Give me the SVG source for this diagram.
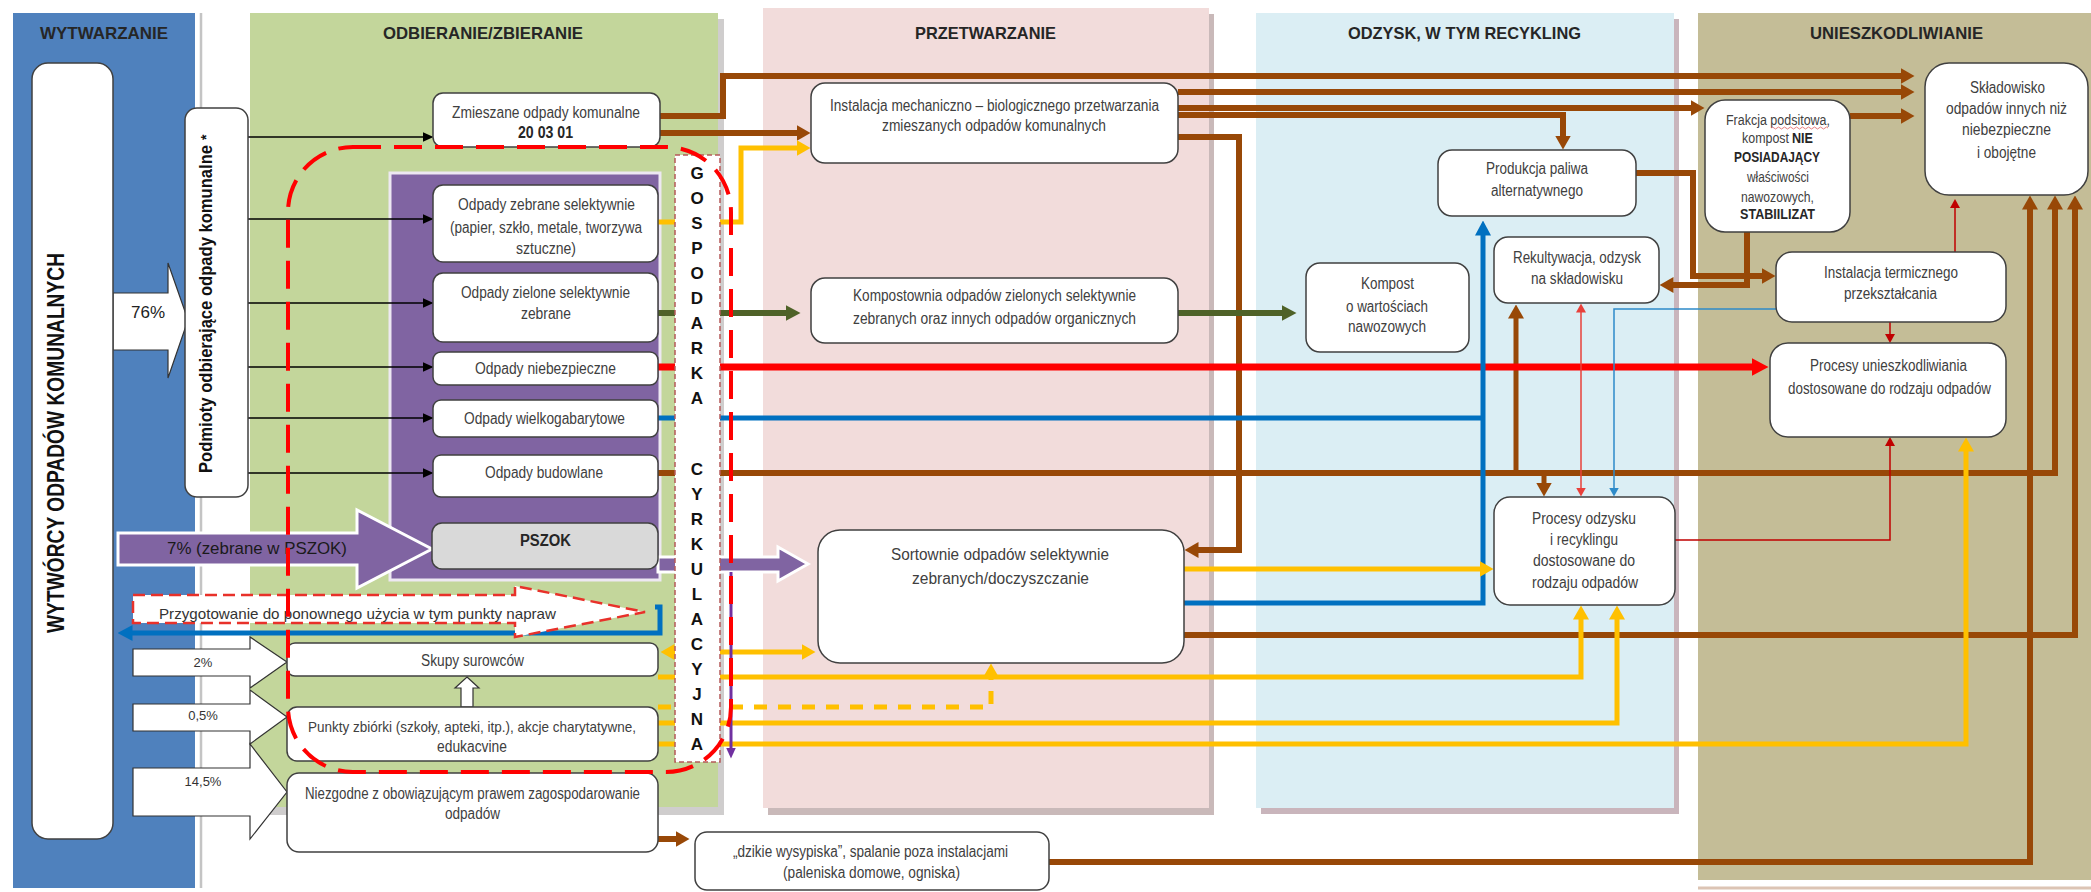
<svg xmlns="http://www.w3.org/2000/svg" width="2091" height="892" viewBox="0 0 2091 892">
<defs>
<style>
.hd{font-family:"Liberation Sans",Arial,sans-serif;font-weight:bold;font-size:17px;fill:#262626}
.t{font-family:"Liberation Sans Narrow","Liberation Sans",Arial,sans-serif;font-size:16px;fill:#404040}
.ts{font-family:"Liberation Sans Narrow","Liberation Sans",Arial,sans-serif;font-size:14px;fill:#404040}
.b{font-weight:bold;fill:#262626}
.box{fill:#fff;stroke:#404040;stroke-width:1.5}
.gc{font-family:"Liberation Sans",Arial,sans-serif;font-weight:bold;font-size:17px;fill:#111;text-anchor:middle}
.pct{font-family:"Liberation Sans",Arial,sans-serif;font-size:13px;fill:#333;text-anchor:middle}
.c{fill:none}
.bk{stroke:#000;stroke-width:1.5;marker-end:url(#mBk)}
.br{stroke:#984807;stroke-width:6;marker-end:url(#mBr)}
.br5{stroke:#984807;stroke-width:5;marker-end:url(#mBr)}
.ye{stroke:#FFC000;stroke-width:5;marker-end:url(#mY)}
.gr{stroke:#4F6228;stroke-width:6;marker-end:url(#mG)}
.rd{stroke:#FF0000;stroke-width:7;marker-end:url(#mR)}
.bl{stroke:#0070C0;stroke-width:5}
.tr{stroke:#C00000;stroke-width:1.5;marker-end:url(#mTR)}
.tb{stroke:#2E8BC9;stroke-width:1.5;marker-end:url(#mTB)}
.wa{fill:#fff;stroke:#333;stroke-width:1.2}
.pa{fill:#8064A2;stroke:#fff;stroke-width:3}
</style>
<marker id="mBr" viewBox="0 0 14 16" refX="0.5" refY="8" markerWidth="14" markerHeight="16" markerUnits="userSpaceOnUse" orient="auto-start-reverse"><path d="M0,0L14,8L0,16z" fill="#984807"/></marker>
<marker id="mY" viewBox="0 0 14 16" refX="0.5" refY="8" markerWidth="14" markerHeight="16" markerUnits="userSpaceOnUse" orient="auto-start-reverse"><path d="M0,0L14,8L0,16z" fill="#FFC000"/></marker>
<marker id="mG" viewBox="0 0 15 16" refX="0.5" refY="8" markerWidth="15" markerHeight="16" markerUnits="userSpaceOnUse" orient="auto-start-reverse"><path d="M0,0L15,8L0,16z" fill="#4F6228"/></marker>
<marker id="mR" viewBox="0 0 17 18" refX="0.5" refY="9" markerWidth="17" markerHeight="18" markerUnits="userSpaceOnUse" orient="auto-start-reverse"><path d="M0,0L17,9L0,18z" fill="#FF0000"/></marker>
<marker id="mBl" viewBox="0 0 15 16" refX="0.5" refY="8" markerWidth="15" markerHeight="16" markerUnits="userSpaceOnUse" orient="auto-start-reverse"><path d="M0,0L15,8L0,16z" fill="#0070C0"/></marker>
<marker id="mBk" viewBox="0 0 11 10" refX="0.5" refY="5" markerWidth="11" markerHeight="10" markerUnits="userSpaceOnUse" orient="auto-start-reverse"><path d="M0,0L11,5L0,10z" fill="#000"/></marker>
<marker id="mTR" viewBox="0 0 9 10" refX="0.5" refY="5" markerWidth="9" markerHeight="10" markerUnits="userSpaceOnUse" orient="auto-start-reverse"><path d="M0,0L9,5L0,10z" fill="#C00000"/></marker>
<marker id="mTR2" viewBox="0 0 9 10" refX="0.5" refY="5" markerWidth="9" markerHeight="10" markerUnits="userSpaceOnUse" orient="auto-start-reverse"><path d="M0,0L9,5L0,10z" fill="#E8403A"/></marker>
<marker id="mTB" viewBox="0 0 9 10" refX="0.5" refY="5" markerWidth="9" markerHeight="10" markerUnits="userSpaceOnUse" orient="auto-start-reverse"><path d="M0,0L9,5L0,10z" fill="#2E8BC9"/></marker>
<marker id="mP" viewBox="0 0 11 10" refX="0.5" refY="5" markerWidth="11" markerHeight="10" markerUnits="userSpaceOnUse" orient="auto-start-reverse"><path d="M0,0L11,5L0,10z" fill="#7030A0"/></marker>
</defs>
<rect x="0" y="0" width="2091" height="892" fill="#fff"/>

<g id="columns">
<rect x="13" y="13" width="182" height="875" fill="#4F81BD"/>
<line x1="201" y1="13" x2="201" y2="888" stroke="#C4C4C4" stroke-width="2.5"/>
<rect x="256" y="19" width="468" height="796" fill="#CFCDCD"/>
<rect x="250" y="13" width="468" height="794" fill="#C3D69B"/>
<rect x="768" y="14" width="446" height="801" fill="#C9B9B9"/>
<rect x="763" y="8" width="446" height="800" fill="#F2DCDB"/>
<rect x="1261" y="19" width="418" height="795" fill="#C9B5BC"/>
<rect x="1256" y="13" width="418" height="795" fill="#DBEEF4"/>
<rect x="1698" y="13" width="393" height="867" fill="#C4BD97"/>
<line x1="1698" y1="888" x2="2091" y2="888" stroke="#DCC4B4" stroke-width="3"/>
<text class="hd" x="40" y="39" textLength="128" lengthAdjust="spacingAndGlyphs">WYTWARZANIE</text>
<text class="hd" x="383" y="39" textLength="200" lengthAdjust="spacingAndGlyphs">ODBIERANIE/ZBIERANIE</text>
<text class="hd" x="915" y="39" textLength="141" lengthAdjust="spacingAndGlyphs">PRZETWARZANIE</text>
<text class="hd" x="1348" y="39" textLength="233" lengthAdjust="spacingAndGlyphs">ODZYSK, W TYM RECYKLING</text>
<text class="hd" x="1810" y="39" textLength="173" lengthAdjust="spacingAndGlyphs">UNIESZKODLIWIANIE</text>
</g>

<g id="selective-panel">
<rect x="390" y="173" width="270" height="407" fill="#8064A2" stroke="#EDE8F2" stroke-width="3"/>
</g>

<g id="connectors">
<polygon class="wa" points="113,293 168,293 168,263 188,320 168,378 168,350 113,350"/>
<polygon class="pa" points="118,533 357,533 357,510 432,549 357,588 357,565 118,565"/>
<polygon class="wa" points="133,649 250,649 250,637 287,662 250,688 250,676 133,676"/>
<polygon class="wa" points="133,704 250,704 250,690 287,717 250,744 250,731 133,731"/>
<polygon class="wa" points="133,768 250,768 250,744 287,792 250,839 250,816 133,816"/>
<polygon class="wa" points="467,677 479,688 473,688 473,707 461,707 461,688 455,688"/>
<polygon class="pa" stroke-width="2.5" points="658,557 778,557 778,547 808,564 778,581 778,572 658,572"/>

<path class="c bk" d="M248,137H423"/>
<path class="c bk" d="M248,219H423"/>
<path class="c bk" d="M248,303H423"/>
<path class="c bk" d="M248,367H423"/>
<path class="c bk" d="M248,418H423"/>
<path class="c bk" d="M248,473H423"/>

<path class="c br" d="M660,116H723V76H1901"/>
<path class="c br" d="M660,133H797"/>
<path class="c br" d="M1178,92H1901"/>
<path class="c br" d="M1178,108H1691"/>
<path class="c br" d="M1178,115H1563V136"/>
<path class="c br" d="M1178,137H1239V550H1198"/>
<path class="c br" d="M1850,116H1901"/>
<path class="c br" d="M1747,232V285H1673"/>
<path class="c br" d="M1636,173H1693V276H1762"/>
<path class="c br" d="M658,473H2055V209"/>
<path class="c br5" d="M1516,473V318"/>
<path class="c br5" d="M1544,473V483"/>
<path class="c br" d="M1184,635H2075V209"/>
<path class="c br" d="M1049,862H2030V209"/>
<path class="c br" d="M658,839H676"/>

<path class="c gr" d="M658,313H786"/>
<path class="c gr" d="M1178,313H1282"/>
<path class="c rd" d="M658,367H1752"/>

<path class="c bl" d="M658,418H1485"/>
<path class="c bl" d="M1184,603H1483V235" marker-end="url(#mBl)"/>
<path class="c bl" stroke-width="4" d="M655,607H660V633H132" marker-end="url(#mBl)"/>

<path class="c ye" d="M658,222H741V148H797"/>
<path class="c ye" d="M674,652H802" marker-start="url(#mY)"/>
<path class="c ye" d="M658,677H1581V619"/>
<path class="c ye" stroke-dasharray="13 11" d="M658,707H991V677"/>
<path class="c ye" d="M658,723H1617V619"/>
<path class="c ye" d="M658,744H1966V451"/>
<path class="c ye" d="M1184,569H1480"/>

<path class="c tr" d="M1955,252V207.5"/>
<path class="c tr" d="M1890,322V334.5"/>
<path class="c tr" d="M1675,540H1890V445.5"/>
<path class="c" stroke="#E8403A" stroke-width="1.5" d="M1581,312V488" marker-start="url(#mTR2)" marker-end="url(#mTR2)"/>
<path class="c tb" d="M1776,309H1614V488"/>
<path class="c" stroke="#7030A0" stroke-width="3" d="M731,572V748" marker-end="url(#mP)"/>
</g>

<g id="pct-labels">
<text class="hd" x="148" y="318" text-anchor="middle" style="font-weight:normal;fill:#222">76%</text>
<text x="167" y="554" textLength="180" lengthAdjust="spacingAndGlyphs" style="font-family:'Liberation Sans',Arial,sans-serif;font-size:17px;fill:#1a1a1a">7% (zebrane w PSZOK)</text>
<text class="pct" x="203" y="667">2%</text>
<text class="pct" x="203" y="720">0,5%</text>
<text class="pct" x="203" y="786">14,5%</text>
</g>

<g id="wytworcy">
<rect class="box" x="32" y="63" width="81" height="776" rx="16"/>
<text transform="translate(64,633) rotate(-90)" textLength="380" lengthAdjust="spacingAndGlyphs" style="font-family:'Liberation Sans',Arial,sans-serif;font-weight:bold;font-size:24px;fill:#111">WYTWÓRCY ODPADÓW KOMUNALNYCH</text>
</g>

<g id="podmioty">
<rect class="box" x="185" y="108" width="63" height="389" rx="12"/>
<text transform="translate(212,473) rotate(-90)" textLength="328" lengthAdjust="spacingAndGlyphs" style="font-family:'Liberation Sans',Arial,sans-serif;font-weight:bold;font-size:19px;fill:#111">Podmioty odbierające odpady komunalne</text>
<text transform="translate(211,140) rotate(-90)" style="font-family:'Liberation Sans',Arial,sans-serif;font-weight:bold;font-size:14px;fill:#111">*</text>
</g>

<g id="zmieszane">
<rect class="box" x="433" y="93" width="227" height="54" rx="10"/>
<text class="t" x="452" y="118" textLength="188" lengthAdjust="spacingAndGlyphs">Zmieszane odpady komunalne</text>
<text class="t b" x="518" y="138" textLength="55" lengthAdjust="spacingAndGlyphs">20 03 01</text>
</g>

<g id="zebrane-selektywnie">
<rect class="box" x="433" y="185" width="225" height="77" rx="10"/>
<text class="t" x="458" y="210" textLength="177" lengthAdjust="spacingAndGlyphs">Odpady zebrane selektywnie</text>
<text class="t" x="450" y="233" textLength="192" lengthAdjust="spacingAndGlyphs">(papier, szkło, metale, tworzywa</text>
<text class="t" x="516" y="254" textLength="60" lengthAdjust="spacingAndGlyphs">sztuczne)</text>
</g>

<g id="zielone">
<rect class="box" x="433" y="273" width="225" height="69" rx="10"/>
<text class="t" x="461" y="298" textLength="169" lengthAdjust="spacingAndGlyphs">Odpady zielone selektywnie</text>
<text class="t" x="521" y="319" textLength="50" lengthAdjust="spacingAndGlyphs">zebrane</text>
</g>

<g id="niebezpieczne">
<rect class="box" x="433" y="352" width="225" height="33" rx="8"/>
<text class="t" x="475" y="374" textLength="141" lengthAdjust="spacingAndGlyphs">Odpady niebezpieczne</text>
</g>

<g id="wielkogabarytowe">
<rect class="box" x="433" y="400" width="225" height="37" rx="8"/>
<text class="t" x="464" y="424" textLength="161" lengthAdjust="spacingAndGlyphs">Odpady wielkogabarytowe</text>
</g>

<g id="budowlane">
<rect class="box" x="433" y="455" width="225" height="42" rx="8"/>
<text class="t" x="485" y="478" textLength="118" lengthAdjust="spacingAndGlyphs">Odpady budowlane</text>
</g>

<g id="pszok">
<rect x="432" y="523" width="226" height="46" rx="10" fill="#D9D9D9" stroke="#404040" stroke-width="1.5"/>
<text class="t b" x="520" y="546" textLength="51" lengthAdjust="spacingAndGlyphs">PSZOK</text>
</g>

<g id="przygotowanie">
<polygon points="133,595 515,595 515,586 645,612 515,637 515,623 133,623" fill="#fff" stroke="#E8312A" stroke-width="2.5" stroke-dasharray="12 6"/>
<text x="159" y="619" textLength="397" lengthAdjust="spacingAndGlyphs" style="font-family:'Liberation Sans',Arial,sans-serif;font-size:15px;fill:#333">Przygotowanie do ponownego użycia w tym punkty napraw</text>
</g>

<g id="skupy">
<rect class="box" x="287" y="643" width="371" height="33" rx="8"/>
<text class="t" x="421" y="666" textLength="103" lengthAdjust="spacingAndGlyphs">Skupy surowców</text>
</g>

<g id="punkty">
<rect class="box" x="287" y="707" width="371" height="54" rx="10"/>
<text class="t" x="308" y="732" textLength="328" lengthAdjust="spacingAndGlyphs" style="font-size:15px">Punkty zbiórki (szkoły, apteki, itp.), akcje charytatywne,</text>
<text class="t" x="437" y="752" textLength="70" lengthAdjust="spacingAndGlyphs">edukacvine</text>
</g>

<g id="niezgodne">
<rect class="box" x="287" y="773" width="371" height="79" rx="12"/>
<text class="t" x="305" y="799" textLength="335" lengthAdjust="spacingAndGlyphs">Niezgodne z obowiązującym prawem zagospodarowanie</text>
<text class="t" x="445" y="819" textLength="55" lengthAdjust="spacingAndGlyphs">odpadów</text>
</g>

<g id="dzikie">
<rect class="box" x="695" y="832" width="354" height="58" rx="12"/>
<text class="t" x="733" y="857" textLength="275" lengthAdjust="spacingAndGlyphs">„dzikie wysypiska”, spalanie poza instalacjami</text>
<text class="t" x="783" y="878" textLength="177" lengthAdjust="spacingAndGlyphs">(paleniska domowe, ogniska)</text>
</g>

<g id="mbp">
<rect class="box" x="811" y="83" width="367" height="80" rx="14"/>
<text class="t" x="830" y="111" textLength="329" lengthAdjust="spacingAndGlyphs">Instalacja mechaniczno – biologicznego przetwarzania</text>
<text class="t" x="882" y="131" textLength="224" lengthAdjust="spacingAndGlyphs">zmieszanych odpadów komunalnych</text>
</g>

<g id="kompostownia">
<rect class="box" x="811" y="278" width="367" height="65" rx="14"/>
<text class="t" x="853" y="301" textLength="283" lengthAdjust="spacingAndGlyphs">Kompostownia odpadów zielonych selektywnie</text>
<text class="t" x="853" y="324" textLength="283" lengthAdjust="spacingAndGlyphs">zebranych oraz innych odpadów organicznych</text>
</g>

<g id="sortownie">
<rect class="box" x="818" y="530" width="366" height="133" rx="22"/>
<text class="t" x="891" y="560" textLength="218" lengthAdjust="spacingAndGlyphs">Sortownie odpadów selektywnie</text>
<text class="t" x="912" y="584" textLength="177" lengthAdjust="spacingAndGlyphs">zebranych/doczyszczanie</text>
</g>

<g id="kompost">
<rect class="box" x="1306" y="263" width="163" height="89" rx="14"/>
<text class="t" x="1361" y="289" textLength="53" lengthAdjust="spacingAndGlyphs">Kompost</text>
<text class="t" x="1346" y="312" textLength="82" lengthAdjust="spacingAndGlyphs">o wartościach</text>
<text class="t" x="1348" y="332" textLength="78" lengthAdjust="spacingAndGlyphs">nawozowych</text>
</g>

<g id="produkcja-paliwa">
<rect class="box" x="1438" y="150" width="198" height="66" rx="14"/>
<text class="t" x="1486" y="174" textLength="102" lengthAdjust="spacingAndGlyphs">Produkcja paliwa</text>
<text class="t" x="1491" y="196" textLength="92" lengthAdjust="spacingAndGlyphs">alternatywnego</text>
</g>

<g id="rekultywacja">
<rect class="box" x="1494" y="237" width="165" height="66" rx="14"/>
<text class="t" x="1513" y="263" textLength="128" lengthAdjust="spacingAndGlyphs">Rekultywacja, odzysk</text>
<text class="t" x="1531" y="284" textLength="92" lengthAdjust="spacingAndGlyphs">na składowisku</text>
</g>

<g id="procesy-odzysku">
<rect class="box" x="1494" y="497" width="181" height="108" rx="16"/>
<text class="t" x="1532" y="524" textLength="104" lengthAdjust="spacingAndGlyphs">Procesy odzysku</text>
<text class="t" x="1550" y="545" textLength="68" lengthAdjust="spacingAndGlyphs">i recyklingu</text>
<text class="t" x="1533" y="566" textLength="102" lengthAdjust="spacingAndGlyphs">dostosowane do</text>
<text class="t" x="1532" y="588" textLength="106" lengthAdjust="spacingAndGlyphs">rodzaju odpadów</text>
</g>

<g id="frakcja">
<rect class="box" x="1705" y="100" width="145" height="132" rx="20"/>
<text class="ts" x="1726" y="125" textLength="104" lengthAdjust="spacingAndGlyphs">Frakcja podsitowa,</text>
<path d="M1771,128 q1.5,-2 3,0 t3,0 t3,0 t3,0 t3,0 t3,0 t3,0 t3,0 t3,0 t3,0 t3,0 t3,0 t3,0 t3,0 t3,0 t3,0 t3,0 t3,0 t3,0" fill="none" stroke="#E06060" stroke-width="0.8"/>
<text class="ts" x="1742" y="143" textLength="47" lengthAdjust="spacingAndGlyphs">kompost</text>
<text class="ts b" x="1792" y="143" textLength="21" lengthAdjust="spacingAndGlyphs">NIE</text>
<text class="ts b" x="1734" y="162" textLength="86" lengthAdjust="spacingAndGlyphs">POSIADAJĄCY</text>
<text class="ts" x="1747" y="182" textLength="62" lengthAdjust="spacingAndGlyphs">właściwości</text>
<text class="ts" x="1741" y="202" textLength="73" lengthAdjust="spacingAndGlyphs">nawozowych,</text>
<text class="ts b" x="1740" y="219" textLength="75" lengthAdjust="spacingAndGlyphs">STABIILIZAT</text>
</g>

<g id="skladowisko">
<rect class="box" x="1925" y="63" width="163" height="132" rx="24"/>
<text class="t" x="1970" y="93" textLength="75" lengthAdjust="spacingAndGlyphs">Składowisko</text>
<text class="t" x="1946" y="114" textLength="121" lengthAdjust="spacingAndGlyphs">odpadów innych niż</text>
<text class="t" x="1962" y="135" textLength="89" lengthAdjust="spacingAndGlyphs">niebezpieczne</text>
<text class="t" x="1977" y="158" textLength="59" lengthAdjust="spacingAndGlyphs">i obojętne</text>
</g>

<g id="termiczna">
<rect class="box" x="1776" y="252" width="230" height="70" rx="16"/>
<text class="t" x="1824" y="278" textLength="134" lengthAdjust="spacingAndGlyphs">Instalacja termicznego</text>
<text class="t" x="1844" y="299" textLength="93" lengthAdjust="spacingAndGlyphs">przekształcania</text>
</g>

<g id="procesy-unieszkodliwiania">
<rect class="box" x="1770" y="343" width="236" height="94" rx="18"/>
<text class="t" x="1810" y="371" textLength="157" lengthAdjust="spacingAndGlyphs">Procesy unieszkodliwiania</text>
<text class="t" x="1788" y="394" textLength="203" lengthAdjust="spacingAndGlyphs">dostosowane do rodzaju odpadów</text>
</g>

<g id="gospodarka-cyrkulacyjna">
<rect x="675" y="155" width="45" height="607" fill="#fff" stroke="#B55A5A" stroke-width="1.5" stroke-dasharray="5 3"/>
<text class="gc" x="697" y="179">G</text>
<text class="gc" x="697" y="204">O</text>
<text class="gc" x="697" y="229">S</text>
<text class="gc" x="697" y="254">P</text>
<text class="gc" x="697" y="279">O</text>
<text class="gc" x="697" y="304">D</text>
<text class="gc" x="697" y="329">A</text>
<text class="gc" x="697" y="354">R</text>
<text class="gc" x="697" y="379">K</text>
<text class="gc" x="697" y="404">A</text>
<text class="gc" x="697" y="475">C</text>
<text class="gc" x="697" y="500">Y</text>
<text class="gc" x="697" y="525">R</text>
<text class="gc" x="697" y="550">K</text>
<text class="gc" x="697" y="575">U</text>
<text class="gc" x="697" y="600">L</text>
<text class="gc" x="697" y="625">A</text>
<text class="gc" x="697" y="650">C</text>
<text class="gc" x="697" y="675">Y</text>
<text class="gc" x="697" y="700">J</text>
<text class="gc" x="697" y="725">N</text>
<text class="gc" x="697" y="750">A</text>
</g>

<g id="circular-outline">
<rect x="288" y="147" width="443" height="625" rx="65" fill="none" stroke="#FF0000" stroke-width="4" stroke-dasharray="28 13"/>
</g>
</svg>
